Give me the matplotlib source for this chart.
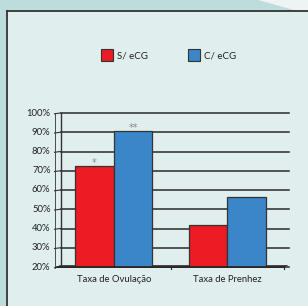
import matplotlib
matplotlib.use("Agg")
import matplotlib.pyplot as plt
from matplotlib.patches import Rectangle, Polygon
from matplotlib.lines import Line2D

categories = ["Taxa de Ovulação", "Taxa de Prenhez"]
series_names = ["S/ eCG", "C/ eCG"]
s_ecg = [72.6, 41.7]
c_ecg = [90.8, 56.5]
s_marks = ["*", ""]
c_marks = ["**", ""]
yticks = [20, 30, 40, 50, 60, 70, 80, 90, 100]
colors = ["#ec1c24", "#3a86c8"]

W, H = 308, 306
fig = plt.figure(figsize=(W / 100, H / 100), dpi=100)
fig.patch.set_facecolor("#bddcdc")
plt.rcParams['font.family'] = ['Lato', 'DejaVu Sans']

def fx(px):
    return px / W

def fy(py):
    return 1 - py / H

# white wedge top-right
fig.patches.append(Polygon([(fx(258), fy(0)), (fx(308), fy(0)), (fx(308), fy(14))],
                           closed=True, transform=fig.transFigure, facecolor="#eef3f3",
                           edgecolor="none", zorder=-3))
# light panel
fig.patches.append(Rectangle((fx(7), 0), 1 - fx(7), fy(11), transform=fig.transFigure,
                             facecolor="#e0eeee", edgecolor="none", zorder=-2))
fig.lines.append(Line2D([fx(7), fx(7)], [0, fy(11)], transform=fig.transFigure,
                        color="#333333", lw=1.3, zorder=-1))
fig.lines.append(Line2D([fx(7), 1], [fy(11), fy(11)], transform=fig.transFigure,
                        color="#333333", lw=1.3, zorder=-1))

# legend
leg_items = [(101, series_names[0], colors[0]), (188, series_names[1], colors[1])]
for x0, name, col in leg_items:
    fig.patches.append(Rectangle((fx(x0), fy(61)), 12 / W, 12 / H, transform=fig.transFigure,
                                 facecolor=col, edgecolor="#333333", lw=0.8, zorder=2))
    fig.text(fx(x0 + 16), fy(56), name, fontsize=7, color="#222222", va="center", ha="left")

# axes
left, right, top, bottom = 57, 284, 113, 267
ax = fig.add_axes([fx(left), fy(bottom), (right - left) / W, (bottom - top) / H])
ax.set_zorder(5)
ax.set_xlim(0, 2)
ax.set_ylim(20, 100)
ax.patch.set_alpha(0)
for s in ax.spines.values():
    s.set_visible(False)
ax.set_xticks([])
ax.set_yticks([])

dx = 3.5 / 113.5
for v in yticks:
    ax.plot([dx, 2 + dx + 0.01], [v, v], color="#2a2a2a", lw=1.1, clip_on=False, zorder=1)
    ax.plot([-2.5 / 113.5, dx], [v - 0.4, v], color="#333333", lw=0.8, clip_on=False, zorder=1)
    ax.text(-6.5 / 113.5, v, f"{v}%", fontsize=6.8, ha="right", va="center", color="#222222")
# back wall and floor
ax.plot([dx, dx], [20.3, 100], color="#333333", lw=1.0, clip_on=False, zorder=1)
ax.plot([-2.5 / 113.5, -2.5 / 113.5], [19.6, 100], color="#333333", lw=0.6, clip_on=False, zorder=1)
ax.add_patch(Polygon([(0, 20), (dx, 20.8), (2 + dx, 20.8), (2, 20)], closed=True,
                     facecolor="#8a8a8a", edgecolor="#333333", lw=0.6, clip_on=False, zorder=1))
ax.plot([0, 2], [20, 20], color="#222222", lw=1.2, clip_on=False, zorder=4)
for xt in [1, 2]:
    ax.plot([xt, xt], [20, 18.8], color="#222222", lw=0.8, clip_on=False, zorder=4)

bw = 0.34
xs = [0.5, 1.5]
for i, x in enumerate(xs):
    ax.bar(x - bw / 2, s_ecg[i] - 20, bottom=20, width=bw, color=colors[0],
           edgecolor="#333333", lw=0.9, zorder=3)
    ax.bar(x + bw / 2, c_ecg[i] - 20, bottom=20, width=bw, color=colors[1],
           edgecolor="#333333", lw=0.9, zorder=3)
    if s_marks[i]:
        ax.text(x - bw / 2, s_ecg[i] - 0.3, s_marks[i], fontsize=7, ha="center", va="baseline",
                color="#8a8a8a", family="DejaVu Sans")
    if c_marks[i]:
        ax.text(x + bw / 2, c_ecg[i] - 0.3, c_marks[i], fontsize=7, ha="center", va="baseline",
                color="#8a8a8a", family="DejaVu Sans")
    ax.text(x, 20 - 12.5 / 1.925, categories[i], fontsize=6.8, ha="center", va="center",
            color="#222222")

fig.savefig("out.png", dpi=100)
